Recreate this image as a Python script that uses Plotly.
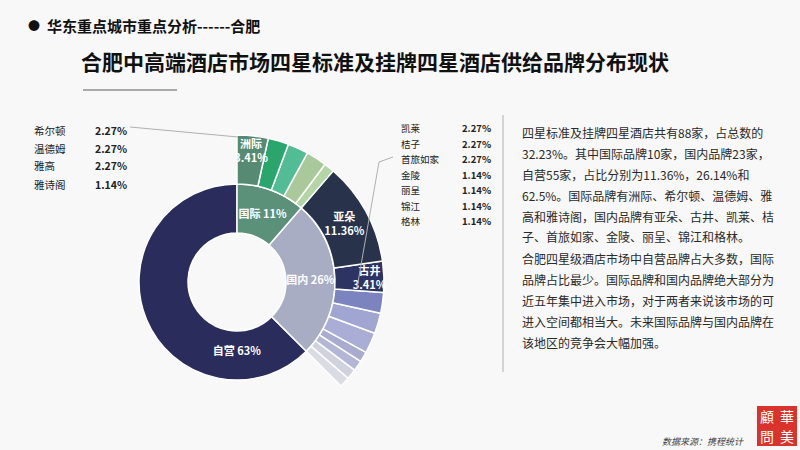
import plotly.graph_objects as go

# ---- data ----
groups = ["国际", "国内", "自营"]
group_share = [11.36, 26.14, 62.5]
group_text = ["国际 11%", "国内 26%", "自营 63%"]

intl_brands = ["洲际", "希尔顿", "温德姆", "雅高", "雅诗阁"]
intl_share = [3.41, 2.27, 2.27, 2.27, 1.14]

dom_brands = ["亚朵", "古井", "凯莱", "桔子", "首旅如家", "金陵", "丽呈", "锦江", "格林"]
dom_share = [11.36, 3.41, 2.27, 2.27, 2.27, 1.14, 1.14, 1.14, 1.14]

intl_colors = ["#578a73", "#2aa56b", "#52bd95", "#a9c99b", "#b3d6a4"]
dom_colors = ["#28334b", "#2d3363", "#7c84bf", "#a1a5d1", "#aaadd5", "#a9acd0",
              "#b3b6d6", "#d0d3de", "#d9dce4"]
group_colors = {"国际": "#5b9079", "国内": "#a9adc4", "自营": "#2a2c5c"}

# labels shown inside the rings
inner_labels = {"洲际": "洲际<br>3.41%", "亚朵": "亚朵<br>11.36%", "古井": "古井<br>3.41%"}

paragraph = [
    "四星标准及挂牌四星酒店共有88家，占总数的",
    "32.23%。其中国际品牌10家，国内品牌23家，",
    "自营55家，占比分别为11.36%，26.14%和",
    "62.5%。国际品牌有洲际、希尔顿、温德姆、雅",
    "高和雅诗阁，国内品牌有亚朵、古井、凯莱、桔",
    "子、首旅如家、金陵、丽呈、锦江和格林。",
    "合肥四星级酒店市场中自营品牌占大多数，国际",
    "品牌占比最少。国际品牌和国内品牌绝大部分为",
    "近五年集中进入市场，对于两者来说该市场的可",
    "进入空间都相当大。未来国际品牌与国内品牌在",
    "该地区的竞争会大幅加强。",
]

BG = "#f8f8f8"
FONT = "Noto Sans CJK SC"

# ---- build sunburst (drawn counter-clockwise from 12 o'clock) ----
ids, labels, parents, values, colors, texts = ["root"], [""], [""], [0], [BG], [""]
brand_map = {"国际": (intl_brands, intl_share, intl_colors),
             "国内": (dom_brands, dom_share, dom_colors)}
for g, share, gt in zip(groups[::-1], group_share[::-1], group_text[::-1]):
    ids.append(g)
    labels.append(g)
    parents.append("root")
    values.append(share if g not in brand_map else 0)
    colors.append(group_colors[g])
    texts.append("<b>%s</b>" % gt)
    if g in brand_map:
        b, s, c = brand_map[g]
        for name, v, col in zip(b[::-1], s[::-1], c[::-1]):
            ids.append(g + "-" + name)
            labels.append(name)
            parents.append(g)
            values.append(v)
            colors.append(col)
            t = inner_labels.get(name, "")
            texts.append("<b>%s</b>" % t if t else "")

fig = go.Figure(go.Sunburst(
    ids=ids, labels=labels, parents=parents, values=values,
    branchvalues="remainder", sort=False, rotation=90,
    marker=dict(colors=colors, line=dict(color="white", width=1.5)),
    leaf=dict(opacity=1),
    text=texts, texttemplate="%{text}", insidetextorientation="horizontal",
    textfont=dict(family=FONT, size=11, color="white"),
    hoverinfo="skip",
    domain=dict(x=[90 / 800, 384 / 800], y=[21 / 450, 315 / 450]),
))


def px(x):
    return x / 800


def py(y):
    return 1 - y / 450


ann = []
shapes = []

# header
ann.append(dict(x=px(26), y=py(25), text="●", font=dict(size=12, color="#111")))
ann.append(dict(x=px(45), y=py(25), text="<b>华东重点城市重点分析------合肥</b>",
                font=dict(size=15, color="#111")))
ann.append(dict(x=px(79), y=py(61), text="<b>合肥中高端酒店市场四星标准及挂牌四星酒店供给品牌分布现状</b>",
                font=dict(size=21, color="#111")))
shapes.append(dict(type="line", xref="paper", yref="paper", x0=px(83), x1=px(177),
                   y0=py(90), y1=py(90), line=dict(color="#aaaaaa", width=2)))

# left brand list (international)
for i, (name, v) in enumerate(zip(intl_brands[1:], intl_share[1:])):
    y = 130 + i * 18
    ann.append(dict(x=px(32), y=py(y), text=name, font=dict(size=10.5, color="#222")))
    ann.append(dict(x=px(93), y=py(y), text="<b>%.2f%%</b>" % v, font=dict(size=10.5, color="#222")))
shapes.append(dict(type="line", xref="paper", yref="paper", x0=px(130), x1=px(238),
                   y0=py(127), y1=py(137), line=dict(color="#b0b0b0", width=1)))

# right brand list (domestic)
for i, (name, v) in enumerate(zip(dom_brands[2:], dom_share[2:])):
    y = 128 + i * 15.5
    ann.append(dict(x=px(399), y=py(y), text=name, font=dict(size=9.5, color="#222")))
    ann.append(dict(x=px(460), y=py(y), text="<b>%.2f%%</b>" % v, font=dict(size=9.5, color="#222")))
shapes.append(dict(type="path", xref="paper", yref="paper",
                   path="M %f %f L %f %f L %f %f" % (px(393), py(157), px(379), py(162), px(357), py(288)),
                   line=dict(color="#b0b0b0", width=1)))

# paragraph + separator
shapes.append(dict(type="line", xref="paper", yref="paper", x0=px(503), x1=px(503),
                   y0=py(115), y1=py(372), line=dict(color="#c8c8c8", width=1.5)))
for i, line in enumerate(paragraph):
    ann.append(dict(x=px(520), y=py(132 + i * 21), text=line, font=dict(size=12, color="#2a2a2a")))

# source + seal
ann.append(dict(x=px(660), y=py(441), text="<i>数据来源：携程统计</i>", font=dict(size=9, color="#444")))
shapes.append(dict(type="rect", xref="paper", yref="paper", x0=px(757), x1=px(797),
                   y0=py(446), y1=py(406), fillcolor="#d9332b", line=dict(width=0)))
for ch, x, y in [("華", 787, 416), ("美", 787, 436), ("顧", 767, 416), ("問", 767, 436)]:
    ann.append(dict(x=px(x), y=py(y), text=ch, xanchor="center",
                    font=dict(size=14, color="white")))

for a in ann:
    a.setdefault("xanchor", "left")
    a.update(xref="paper", yref="paper", yanchor="middle", showarrow=False)

fig.update_layout(
    width=800, height=450,
    margin=dict(l=0, r=0, t=0, b=0),
    paper_bgcolor=BG, plot_bgcolor=BG,
    font=dict(family=FONT),
    uniformtext=dict(minsize=11, mode="show"),
    annotations=ann, shapes=shapes,
    showlegend=False,
)

# drop the default page margin so the 800x450 figure fills the window
fig.write_html("out.html", config={"displayModeBar": False},
               post_script="document.body.style.margin='0';")
